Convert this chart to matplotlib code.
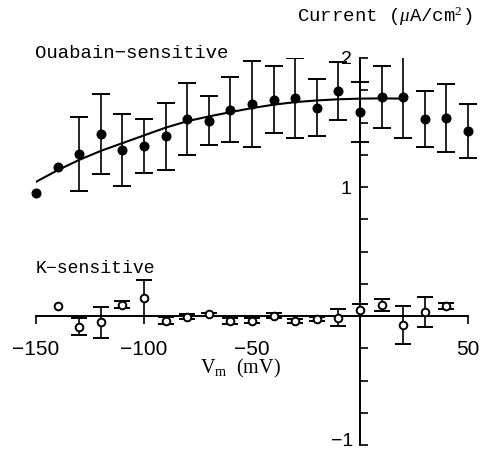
import numpy as np
import matplotlib
matplotlib.use("Agg")
import matplotlib.pyplot as plt
from matplotlib.transforms import Bbox, TransformedBbox

# ---- Data ----
# Ouabain-sensitive current, filled circles
oua_vm = [-150, -140, -130, -120, -110, -100, -90, -80, -70, -60, -50,
          -40, -30, -20, -10, 0, 10, 20, 30, 40, 50]
oua_i = [0.951, 1.153, 1.256, 1.408, 1.287, 1.32, 1.395, 1.527, 1.512, 1.60, 1.643,
         1.677, 1.687, 1.615, 1.747, 1.58, 1.695, 1.70, 1.527, 1.535, 1.434]
oua_err = [np.nan, np.nan, 0.29, 0.31, 0.28, 0.21, 0.26, 0.28, 0.19, 0.25, 0.33,
           0.26, 0.31, 0.22, 0.225, 0.235, 0.24, 0.32, 0.22, 0.26, 0.21]

# fitted curve through ouabain data
fit_vm = [-150, -140, -130, -120, -110, -100, -90, -80, -70, -60,
          -50, -40, -30, -20, -10, 0, 10, 20]
fit_i = [1.04, 1.13, 1.21, 1.28, 1.34, 1.40, 1.46, 1.51, 1.547, 1.58,
         1.612, 1.638, 1.658, 1.671, 1.68, 1.685, 1.687, 1.685]

# K-sensitive current, open circles
k_vm = [-140, -130, -120, -110, -100, -90, -80, -70, -60, -50,
        -40, -30, -20, -10, 0, 10, 20, 30, 40]
k_i = [0.078, -0.083, -0.049, 0.088, 0.137, -0.035, -0.005, 0.012, -0.038, -0.035,
       0.002, -0.039, -0.02, -0.013, 0.047, 0.085, -0.07, 0.029, 0.08]
k_err = [np.nan, 0.068, 0.12, 0.025, 0.14, 0.027, 0.022, 0.012, 0.022, 0.022,
         0.02, 0.015, 0.015, 0.065, 0.047, 0.047, 0.15, 0.115, 0.022]

xtick_vals = [-150, -100, -50, 50]
xtick_text = ["\u2212150", "\u2212100", "\u221250", "50"]
ytick_vals = np.arange(-1, 2.01, 0.25)

plt.rcParams['mathtext.fontset'] = 'custom'
plt.rcParams['mathtext.rm'] = 'Liberation Serif'
plt.rcParams['mathtext.it'] = 'Liberation Serif:italic'

W, H = 485, 453
fig = plt.figure(figsize=(W / 100, H / 100), dpi=100)
# axes box: x -150..50 -> px 36..468, y -1..2 -> px 445..58
ax = fig.add_axes([36 / W, (H - 445) / H, 432 / W, 387 / H])
ax.set_xlim(-150, 50)
ax.set_ylim(-1, 2)

# ---- axes crossing at origin ----
for s in ["top", "right"]:
    ax.spines[s].set_visible(False)
ax.spines["left"].set_position(("data", 0))
ax.spines["bottom"].set_position(("data", 0))
ax.spines["left"].set_linewidth(1.4)
ax.spines["bottom"].set_linewidth(1.4)

ax.set_xticks(xtick_vals)
ax.set_xticklabels(xtick_text, family="Liberation Sans", fontsize=15)
ax.tick_params(axis="x", direction="out", length=6, width=1.2, pad=11)

ax.set_yticks(ytick_vals)
ax.set_yticklabels(["1" if v == 1 else ("2" if v == 2 else "") for v in ytick_vals],
                   family="Liberation Sans", fontsize=14)
ax.tick_params(axis="y", direction="in", length=6, width=1.2, pad=6)
# -1 label a bit higher so it stays inside the picture
ax.annotate("\u22121", xy=(0, -1), xytext=(-5, 2.5), textcoords="offset points",
            ha="right", va="center", family="Liberation Sans", fontsize=14,
            annotation_clip=False)

# clip box: let caps at the right end stick out, keep top at 2
clip = TransformedBbox(Bbox([[-160, -1.1], [60, 2.0]]), ax.transData)

# ---- Ouabain-sensitive ----
ax.plot(fit_vm, fit_i, color="black", lw=1.5, zorder=2)
eb1 = ax.errorbar(oua_vm, oua_i, yerr=oua_err, fmt="o", color="black", ms=6.2,
                  elinewidth=1.2, capsize=6.5, capthick=1.4, zorder=3)

# ---- K-sensitive ----
eb2 = ax.errorbar(k_vm, k_i, yerr=k_err, fmt="o", color="black", mfc="white", ms=5.5,
                  mew=1.4, elinewidth=1.2, capsize=5.5, capthick=1.6, zorder=3)

for eb in (eb1, eb2):
    for art in eb.get_children():
        art.set_clip_box(clip)

# ---- labels ----
mono = ["Liberation Mono", "DejaVu Sans Mono"]
ax.text(-150.5, 2.0, "Ouabain\u2212sensitive", family=mono, fontsize=13.7,
        va="baseline", ha="left", clip_on=False)
ax.text(-150, 0.33, "K\u2212sensitive", family=mono, fontsize=13.1,
        va="baseline", ha="left", clip_on=False)
ax.text(-29.2, 2.28, r"Current ($\mu$A/cm$^2$)", family=mono, fontsize=13.7,
        va="baseline", ha="left", clip_on=False)
ax.text(-74, -0.445, r"V$_{\rm m}$  (mV)", family="Liberation Serif", fontsize=14.5,
        va="baseline", ha="left", clip_on=False)

fig.savefig("out.png", dpi=100)
